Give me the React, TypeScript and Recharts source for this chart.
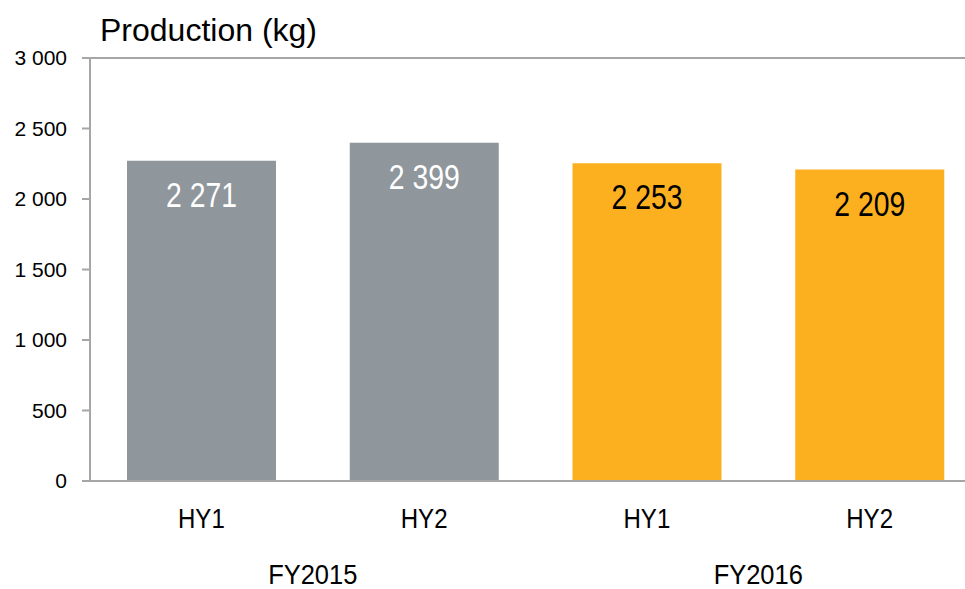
import { Bar, BarChart, Cell, LabelList, ReferenceLine, XAxis, YAxis } from "recharts";

const halves = ["HY1", "HY2", "HY1", "HY2"];
const years = ["FY2015", "FY2015", "FY2016", "FY2016"];
const production = [2271, 2399, 2253, 2209];
const barColors = ["#8F969C", "#8F969C", "#FCB01F", "#FCB01F"];
const labelColors = ["#FFFFFF", "#FFFFFF", "#000000", "#000000"];
const yTicks = [0, 500, 1000, 1500, 2000, 2500, 3000];

const chartData = halves.map((half, i) => ({ key: `${years[i]}-${half}`, half, year: years[i], value: production[i] }));

const axisColor = "#A6A6A6";
const font = "'Liberation Sans', Arial, sans-serif";

const fmt = (v: number) => String(v).replace(/\B(?=(\d{3})+(?!\d))/g, " ");

// Liberation has no narrow face here, so squeeze the regular one horizontally
function SqueezedText({ x, baseline, size, squeeze, fill, children }: any) {
  return (
    <g transform={`translate(${x},${baseline}) scale(${squeeze},1)`}>
      <text x={0} y={0} textAnchor="middle" fontFamily={font} fontSize={size} fill={fill}>
        {children}
      </text>
    </g>
  );
}

function ValueLabel(props: any) {
  const { x, y, width, index, value } = props;
  return (
    <SqueezedText x={Number(x) + Number(width) / 2} baseline={Number(y) + 46} size={35} squeeze={0.81} fill={labelColors[index]}>
      {fmt(Number(value))}
    </SqueezedText>
  );
}

function HalfTick(props: any) {
  const { x, y, index } = props;
  return (
    <SqueezedText x={x} baseline={y + 47} size={28} squeeze={0.86} fill="#000">
      {halves[index]}
    </SqueezedText>
  );
}

function YearTick(props: any) {
  const { x, y, payload } = props;
  return (
    <SqueezedText x={x} baseline={y + 43} size={28} squeeze={0.91} fill="#000">
      {payload.value}
    </SqueezedText>
  );
}

export default function App() {
  return (
    <div style={{ position: "absolute", left: 0, top: 0, width: 965, height: 589, overflow: "hidden", background: "#fff" }}>
      <div
        style={{
          position: "absolute",
          left: 100,
          top: 14,
          fontFamily: font,
          fontSize: 32,
          lineHeight: "32px",
          color: "#000",
          whiteSpace: "nowrap",
        }}
      >
        Production (kg)
      </div>
      <BarChart width={985} height={589} data={chartData} margin={{ top: 58, right: 4, left: 0, bottom: 0 }}>
        <XAxis
          xAxisId="half"
          dataKey="key"
          height={60}
          axisLine={{ stroke: axisColor, strokeWidth: 2 }}
          tickLine={false}
          tickSize={0}
          tickMargin={0}
          interval={0}
          tick={<HalfTick />}
        />
        <XAxis
          xAxisId="year"
          dataKey="year"
          allowDuplicatedCategory={false}
          height={48}
          axisLine={false}
          tickLine={false}
          tickSize={0}
          tickMargin={0}
          interval={0}
          tick={<YearTick />}
        />
        <YAxis
          width={90}
          domain={[0, 3000]}
          ticks={yTicks}
          interval={0}
          tickFormatter={(v) => fmt(Number(v))}
          axisLine={{ stroke: axisColor, strokeWidth: 2 }}
          tickLine={{ stroke: axisColor, strokeWidth: 2 }}
          tickSize={8}
          tickMargin={15}
          tick={{ fill: "#000", fontSize: 21, fontFamily: font }}
        />
        <ReferenceLine xAxisId="half" y={3000} stroke={axisColor} strokeWidth={2} />
        <Bar xAxisId="half" dataKey="value" barSize={149} isAnimationActive={false}>
          {chartData.map((d, i) => (
            <Cell key={d.key} fill={barColors[i]} />
          ))}
          <LabelList dataKey="value" content={ValueLabel} />
        </Bar>
      </BarChart>
    </div>
  );
}
